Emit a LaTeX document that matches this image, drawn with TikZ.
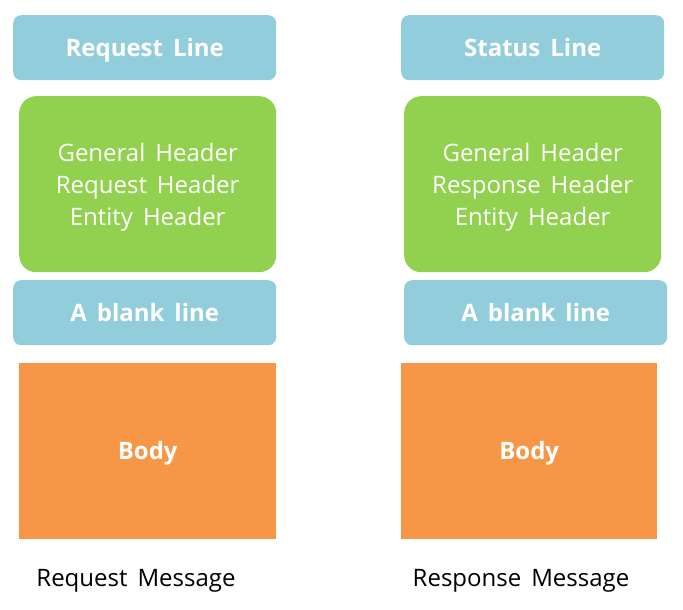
\documentclass[tikz,border=0pt]{standalone}
\usepackage{fontspec}
\setmainfont{Open Sans}[WordSpace={1.6}]
\definecolor{hblue}{HTML}{92CDDC}
\definecolor{hgreen}{HTML}{92D050}
\definecolor{horange}{HTML}{F79646}
\newcommand{\topstrut}{\rule{0pt}{24pt}}
\begin{document}
\begin{tikzpicture}[x=1pt,y=-1pt,
  base/.style={anchor=north west, inner sep=0pt, text=white, align=center},
  onel/.style={text height=17.3pt, text depth=0pt},
  bluebox/.style={base, onel, fill=hblue, rounded corners=8pt, minimum height=65pt,
    font=\bfseries\fontsize{24}{26}\selectfont},
  greenbox/.style={base, fill=hgreen, rounded corners=17pt, minimum height=176pt,
    font=\fontsize{24}{32}\selectfont},
  bodybox/.style={base, onel, fill=horange, minimum height=176pt,
    font=\bfseries\fontsize{24}{26}\selectfont},
  caption/.style={inner sep=0pt, onel, text=black, font=\fontsize{24}{26}\selectfont}]
\useasboundingbox (0,0) rectangle (683,610);
% left column
\node[bluebox, minimum width=263pt] (rl) at (13,15) {Request Line};
\node[greenbox, minimum width=257pt] (rh) at (19,96) {\topstrut General Header\\Request Header\\Entity Header};
\node[bluebox, minimum width=263pt] (rb) at (13,280) {A blank line};
\node[bodybox, minimum width=257pt] (rbody) at (19,363) {Body};
\node[caption] (rcap) at (136,578) {Request Message};
% right column
\node[bluebox, minimum width=263pt] (sl) at (401,15) {Status Line};
\node[greenbox, minimum width=257pt] (sh) at (404,96) {\topstrut General Header\\Response Header\\Entity Header};
\node[bluebox, minimum width=263pt] (sb) at (404,280) {A blank line};
\node[bodybox, minimum width=256pt] (sbody) at (401,363) {Body};
\node[caption] (scap) at (521,578) {Response Message};
\end{tikzpicture}
\end{document}
